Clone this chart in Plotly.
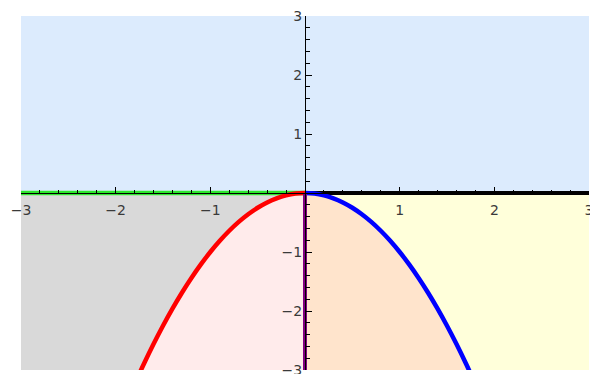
import plotly.graph_objects as go

# Curve readings (left branch red, right branch blue)
left_x = [-1.8, -1.7, -1.6, -1.5, -1.4, -1.3, -1.2, -1.1, -1.0, -0.9, -0.8, -0.7,
          -0.6, -0.5, -0.4, -0.3, -0.2, -0.1, 0.0]
left_y = [-3.24, -2.89, -2.56, -2.25, -1.96, -1.69, -1.44, -1.21, -1.0, -0.81, -0.64,
          -0.49, -0.36, -0.25, -0.16, -0.09, -0.04, -0.01, 0.0]
right_x = [0.0, 0.1, 0.2, 0.3, 0.4, 0.5, 0.6, 0.7, 0.8, 0.9, 1.0, 1.1, 1.2, 1.3,
           1.4, 1.5, 1.6, 1.7, 1.8]
right_y = [0.0, -0.01, -0.04, -0.09, -0.16, -0.25, -0.36, -0.49, -0.64, -0.81, -1.0,
           -1.21, -1.44, -1.69, -1.96, -2.25, -2.56, -2.89, -3.24]

# Plot domain
x_min, x_max = -3.0, 3.0
y_min, y_max = -3.0, 3.0

# Axis segments
green_x = [x_min, 0.0]
green_y = [0.0, 0.0]
black_x = [0.0, x_max]
black_y = [0.0, 0.0]
purple_x = [0.0, 0.0]
purple_y = [0.0, y_min]

major_ticks = [-3, -2, -1, 1, 2, 3]
major_text = ["\u22123", "\u22122", "\u22121", "1", "2", "3"]
minor_ticks = [i / 5 for i in range(-15, 16) if i % 5 != 0]

c_blue_fill = "#DCEBFD"
c_gray = "#D9D9D9"
c_pink = "#FFEBEB"
c_peach = "#FFE4CC"
c_yellow = "#FFFFDA"

fig = go.Figure()

def poly(xs, ys, color):
    fig.add_trace(go.Scatter(x=xs, y=ys, mode="lines", fill="toself",
                             fillcolor=color, line=dict(width=0, color=color),
                             hoverinfo="skip", showlegend=False))

# upper region
poly([x_min, x_max, x_max, x_min], [0, 0, y_max, y_max], c_blue_fill)
# gray: between red curve and axis (left)
poly([x_min, 0.0] + left_x[::-1] + [x_min],
     [0.0, 0.0] + left_y[::-1] + [left_y[0]], c_gray)
# pink: below red curve
poly(left_x + [0.0], left_y + [left_y[0]], c_pink)
# peach: below blue curve
poly(right_x + [0.0], right_y + [right_y[-1]], c_peach)
# yellow: between blue curve and axis (right)
poly(right_x + [x_max, x_max], right_y + [right_y[-1], 0.0], c_yellow)

def line(xs, ys, color, w, shape="linear"):
    fig.add_trace(go.Scatter(x=xs, y=ys, mode="lines",
                             line=dict(color=color, width=w, shape=shape),
                             hoverinfo="skip", showlegend=False))

line(green_x, green_y, "#2EE82E", 4.5)
line(black_x, black_y, "#000000", 4)
line(left_x, left_y, "#FF0000", 4.5, "spline")
line(right_x, right_y, "#0000FF", 4.5, "spline")
line(purple_x, purple_y, "#800080", 4)

tickfont = dict(family="DejaVu Sans", size=14, color="#3a3a3a")

def axis_style():
    return dict(range=[x_min, x_max], showgrid=False, zeroline=False,
                showline=True, linecolor="black", linewidth=1,
                anchor="free", position=0.5, automargin=False,
                ticks="inside", ticklen=6, tickwidth=1, tickcolor="black",
                tickmode="array", tickvals=major_ticks, ticktext=major_text,
                tickfont=tickfont, ticklabeloverflow="allow",
                minor=dict(ticks="inside", ticklen=3.5, tickwidth=1,
                           tickcolor="black", tickmode="array",
                           tickvals=minor_ticks, showgrid=False))

xa = axis_style()
xa["ticklabelstandoff"] = 4
ya = axis_style()
ya["range"] = [y_min, y_max]

fig.update_layout(
    width=590, height=374,
    margin=dict(l=21, r=1, t=16, b=4),
    paper_bgcolor="white", plot_bgcolor="white",
    showlegend=False,
    xaxis=xa, yaxis=ya,
)

fig.write_html(
    "out.html",
    config={"displayModeBar": False},
    post_script="document.body.style.margin='0';document.body.style.overflow='hidden';",
)
